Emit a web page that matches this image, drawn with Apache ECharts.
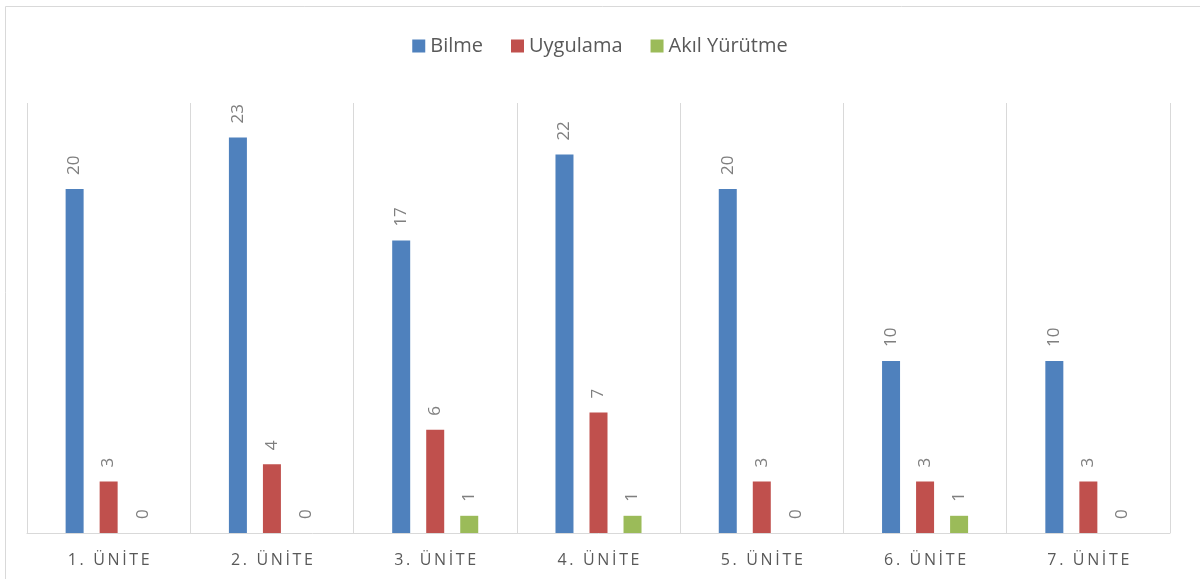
<!DOCTYPE html>
<html>
<head>
<meta charset="utf-8">
<script src="https://cdn.jsdelivr.net/npm/echarts@6/dist/echarts.min.js"></script>
<style>
  html, body { margin: 0; padding: 0; background: #fff; }
  #chart { width: 1200px; height: 579px; }
</style>
</head>
<body>
<div id="chart"></div>
<script>
var units = ['1. ÜNİTE', '2. ÜNİTE', '3. ÜNİTE', '4. ÜNİTE', '5. ÜNİTE', '6. ÜNİTE', '7. ÜNİTE'];
var bilme = [20, 23, 17, 22, 20, 10, 10];
var uygulama = [3, 4, 6, 7, 3, 3, 3];
var akilYurutme = [0, 0, 1, 1, 0, 1, 0];

var chart = echarts.init(document.getElementById('chart'));

var valueLabel = {
    show: true,
    position: 'top',
    rotate: 90,
    align: 'left',
    verticalAlign: 'middle',
    distance: 14,
    color: '#7f7f7f',
    fontSize: 17,
    fontFamily: 'Open Sans'
};

function barSeries(name, data, color) {
    return {
        name: name,
        type: 'bar',
        data: data,
        barWidth: 18,
        barGap: '89%',
        itemStyle: { color: color },
        label: valueLabel
    };
}

// spaced-out category text, like the letter spacing in the original
function spaced(s) {
    return s.split('').join('\u2009');
}

var option = {
    animation: false,
    textStyle: { fontFamily: 'Open Sans' },
    legend: {
        top: 31,
        left: 'center',
        itemWidth: 13,
        itemHeight: 13,
        itemGap: 28,
        icon: 'rect',
        textStyle: { color: '#595959', fontSize: 20, fontFamily: 'Open Sans' },
        data: ['Bilme', 'Uygulama', 'Akıl Yürütme']
    },
    grid: { left: 27, right: 30, top: 103, bottom: 46, containLabel: false },
    xAxis: {
        type: 'category',
        data: units,
        axisTick: { show: false },
        axisLine: { lineStyle: { color: '#d9d9d9', width: 1 } },
        splitLine: { show: true, lineStyle: { color: '#d9d9d9', width: 1 } },
        axisLabel: {
            color: '#595959',
            fontSize: 16,
            margin: 19,
            fontFamily: 'Open Sans',
            formatter: spaced
        }
    },
    yAxis: {
        type: 'value',
        min: 0,
        max: 25,
        show: false,
        splitLine: { show: false }
    },
    graphic: [
        { type: 'line', shape: { x1: 5.5, y1: 6.5, x2: 1200, y2: 6.5 }, style: { stroke: '#d9d9d9', lineWidth: 1 } },
        { type: 'line', shape: { x1: 5.5, y1: 6.5, x2: 5.5, y2: 579 }, style: { stroke: '#d9d9d9', lineWidth: 1 } }
    ],
    series: [
        barSeries('Bilme', bilme, '#4f81bd'),
        barSeries('Uygulama', uygulama, '#c0504d'),
        barSeries('Akıl Yürütme', akilYurutme, '#9bbb59')
    ]
};

chart.setOption(option);
</script>
</body>
</html>
